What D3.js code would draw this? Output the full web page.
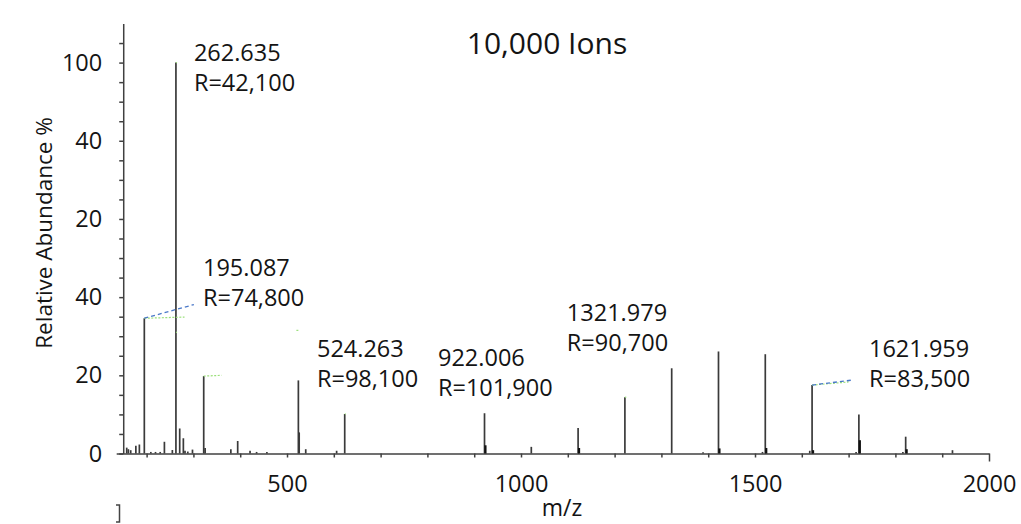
<!DOCTYPE html>
<html>
<head>
<meta charset="utf-8">
<script src="https://cdn.jsdelivr.net/npm/d3@7/dist/d3.min.js"></script>
<style>
  body { margin: 0; background: #fff; }
  svg { display: block; font-family: "Open Sans", sans-serif; }
</style>
</head>
<body>
<script>
// chart size
var width = 1021;
var height = 524;

// peak list (m/z, relative abundance %)
var peakMz = [157.5, 161, 166, 177, 184.5, 195.087, 209, 219, 229, 238, 255, 262.635,
              270.7, 278.5, 282, 288, 298, 322.0, 325, 380, 394.6, 421, 435, 457,
              524.263, 526, 540, 606, 623.3, 922.006, 1021.99, 1121.99, 1221.99,
              1321.979, 1389, 1421.98, 1516, 1521.97, 1617, 1621.959, 1716, 1721.96,
              1816, 1821.95, 1921.95];
var peakAbund = [1.5, 1.1, 0.85, 2.0, 2.3, 34.6, 0.4, 0.4, 0.4, 3.0, 0.9, 100,
                 6.4, 3.9, 0.7, 0.5, 1.0, 19.8, 1.4, 1.1, 3.2, 0.7, 0.4, 0.4,
                 18.7, 5.4, 1.1, 0.7, 10.1, 10.3, 1.7, 6.5, 14.4,
                 21.8, 0.3, 26.1, 0.4, 25.4, 0.7, 17.5, 0.4, 10.0,
                 0.4, 4.3, 0.85];

// isotope shoulders drawn heavier next to the main peaks
var isoMz = [924, 1124, 1424, 1524, 1624, 1724, 1824];
var isoAbund = [2.1, 1.4, 1.3, 1.4, 0.85, 3.4, 1.1];

// annotated peaks
var labelMass = ["262.635", "195.087", "524.263", "922.006", "1321.979", "1621.959"];
var labelRes = ["R=42,100", "R=74,800", "R=98,100", "R=101,900", "R=90,700", "R=83,500"];
// label anchor in chart units (m/z, %)
var labelAtMz = [301, 320.5, 564, 822.6, 1098, 1743.6];
var labelAtAbund = [100.3, 45.5, 24.6, 22.3, 33.8, 24.6];

// leader lines: from peak apex to label (chart units)
var leaderFrom = [[195.087, 34.6], [1621.959, 17.5]];
var leaderTo = [[301, 38.1], [1709, 18.8]];

// faint green apex marks left by the peak picker
var apexMarkFrom = [[195.087, 34.6], [322.0, 19.8], [1621.959, 17.5], [262.635, 100],
                    [262.635, 31], [520, 31.5], [623.3, 10.1], [1221.99, 14.4]];
var apexMarkTo = [[281, 34.9], [360, 20.0], [1700, 18.3], [265, 100],
                  [265, 31], [527, 31.5], [626, 10.1], [1225, 14.4]];

// axis ticks
var xTickValues = [200, 300, 400, 500, 600, 700, 800, 900, 1000, 1100, 1200, 1300,
                   1400, 1500, 1600, 1700, 1800, 1900, 2000];
var xTickLabels = {500: "500", 1000: "1000", 1500: "1500", 2000: "2000"};
var yTickValues = [0, 5, 10, 15, 20, 25, 30, 35, 40, 45, 50, 55, 60, 65, 70, 75, 80,
                   85, 90, 95, 100, 105];
var yTickLabels = {0: "0", 20: "20", 40: "40", 60: "20", 80: "40", 100: "100"};

var titleText = "10,000 Ions";
var xTitle = "m/z";
var yTitle = "Relative Abundance %";

var svg = d3.select("body").append("svg")
            .attr("width", width)
            .attr("height", height);

var x = d3.scaleLinear().domain([135, 2000]).range([116.2, 989]);
var y = d3.scaleLinear().domain([0, 110]).range([453.5, 23.5]);

var axisColor = "#404040";
var textColor = "#141414";

// x axis
var xAxis = svg.append("g")
               .attr("transform", "translate(0," + y(0) + ")")
               .call(d3.axisBottom(x)
                       .tickValues(xTickValues)
                       .tickSize(4)
                       .tickSizeOuter(0)
                       .tickPadding(18)
                       .tickFormat(function(d) { return xTickLabels[d] || ""; }));
xAxis.select(".domain").attr("stroke", axisColor).attr("stroke-width", 1.5);
xAxis.selectAll(".tick line").attr("stroke", axisColor).attr("stroke-width", 1.5);
xAxis.selectAll(".tick").filter(function(d) { return d === 2000; })
     .select("line").attr("y2", 8);
xAxis.selectAll("text")
     .attr("font-size", 23.5)
     .attr("font-family", "Open Sans, sans-serif")
     .attr("fill", textColor);

// y axis
var yAxis = svg.append("g")
               .attr("transform", "translate(" + x(150) + ",0)")
               .call(d3.axisLeft(y)
                       .tickValues(yTickValues)
                       .tickSize(4)
                       .tickSizeOuter(0)
                       .tickPadding(17)
                       .tickFormat(function(d) { return yTickLabels[d] || ""; }));
yAxis.select(".domain").attr("stroke", axisColor).attr("stroke-width", 1.5);
yAxis.selectAll(".tick line").attr("stroke", axisColor).attr("stroke-width", 1.5);
yAxis.selectAll("text")
     .attr("font-size", 23.5)
     .attr("font-family", "Open Sans, sans-serif")
     .attr("fill", textColor);

// peaks
svg.append("g").selectAll("line")
   .data(peakMz)
   .enter().append("line")
   .attr("x1", function(d) { return x(d); })
   .attr("x2", function(d) { return x(d); })
   .attr("y1", y(0))
   .attr("y2", function(d, i) { return y(peakAbund[i]); })
   .attr("stroke", "#3a3a3a")
   .attr("stroke-width", 1.7);

svg.append("g").selectAll("line")
   .data(isoMz)
   .enter().append("line")
   .attr("x1", function(d) { return x(d); })
   .attr("x2", function(d) { return x(d); })
   .attr("y1", y(0))
   .attr("y2", function(d, i) { return y(isoAbund[i]); })
   .attr("stroke", "#111")
   .attr("stroke-width", 2.2);

// green apex marks
svg.append("g").selectAll("line")
   .data(apexMarkFrom)
   .enter().append("line")
   .attr("x1", function(d) { return x(d[0]); })
   .attr("y1", function(d) { return y(d[1]); })
   .attr("x2", function(d, i) { return x(apexMarkTo[i][0]); })
   .attr("y2", function(d, i) { return y(apexMarkTo[i][1]); })
   .attr("stroke", "#9be07a")
   .attr("stroke-width", 1.2)
   .attr("stroke-dasharray", "2,1.5");

// blue leaders
svg.append("g").selectAll("line")
   .data(leaderFrom)
   .enter().append("line")
   .attr("x1", function(d) { return x(d[0]); })
   .attr("y1", function(d) { return y(d[1]); })
   .attr("x2", function(d, i) { return x(leaderTo[i][0]); })
   .attr("y2", function(d, i) { return y(leaderTo[i][1]); })
   .attr("stroke", "#4a78c8")
   .attr("stroke-width", 1.3)
   .attr("stroke-dasharray", "4,3");

// peak labels
var labels = svg.append("g").selectAll("text")
                .data(labelMass)
                .enter().append("text")
                .attr("x", function(d, i) { return x(labelAtMz[i]); })
                .attr("y", function(d, i) { return y(labelAtAbund[i]); })
                .attr("font-size", 23.5)
                .attr("fill", textColor);
labels.append("tspan").text(function(d) { return d; });
labels.append("tspan")
      .attr("x", function(d, i) { return x(labelAtMz[i]); })
      .attr("dy", 30)
      .text(function(d, i) { return labelRes[i]; });

// titles
svg.append("text")
   .attr("x", 547)
   .attr("y", 54)
   .attr("text-anchor", "middle")
   .attr("font-size", 30)
   .attr("fill", textColor)
   .text(titleText);

svg.append("text")
   .attr("x", 562)
   .attr("y", 516)
   .attr("text-anchor", "middle")
   .attr("font-size", 23)
   .attr("fill", textColor)
   .text(xTitle);

svg.append("text")
   .attr("transform", "translate(52,233) rotate(-90)")
   .attr("text-anchor", "middle")
   .attr("font-size", 22.5)
   .attr("fill", textColor)
   .text(yTitle);

// stray bracket left over from the panel below
svg.append("path")
   .attr("d", "M116,505 H119.5 V522 H116")
   .attr("fill", "none")
   .attr("stroke", "#444")
   .attr("stroke-width", 1.5);
</script>
</body>
</html>
